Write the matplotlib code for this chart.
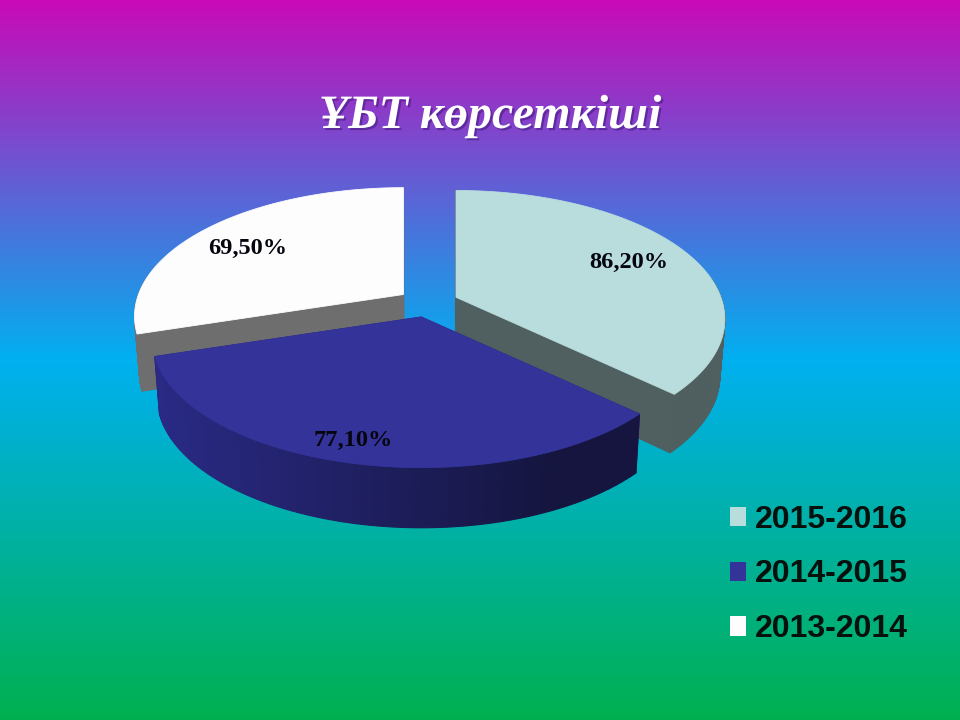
import numpy as np
import matplotlib
matplotlib.use("Agg")
import matplotlib.pyplot as plt
from matplotlib.colors import LinearSegmentedColormap, to_rgb
from matplotlib.patches import Patch, Polygon
import matplotlib.patheffects as pe

# Exam results by school year
years = ["2015-2016", "2014-2015", "2013-2014"]
scores = [86.2, 77.1, 69.5]
title = "ҰБТ көрсеткіші"
face_colors = ["#b9dcdd", "#333399", "#fdfdfe"]
cut_colors = ["#505f5f", "#2a2a85", "#6e6e6e"]

# Pixel layout of the tilted disc
CX, CY = 428, 303
RX, RY = 265, 125
TILT = 0.17
EXPLODE = 0.115
DEPTH = 57
SHRINK = 0.983

fig = plt.figure(figsize=(9.6, 7.2), dpi=100)
ax = fig.add_axes([0, 0, 1, 1])
ax.set_xlim(0, 960)
ax.set_ylim(720, 0)
ax.axis("off")

# Slide background
bg = LinearSegmentedColormap.from_list(
    "slide", [(0, "#c80ab8"), (0.5, "#00b0f0"), (1, "#00b050")])
ax.imshow(np.linspace(0, 1, 720)[:, None], cmap=bg, aspect="auto",
          extent=(0, 960, 720, 0), zorder=0)


def project(theta, r=1.0):
    """Offset of a disc point (clockwise angle from the far side) on screen."""
    x, y = r * np.sin(theta), r * np.cos(theta)
    w = 1 + TILT * y
    return RX * x / w, -RY * y / w


def lower(px, py):
    """Same point on the underside of the disc; nearer points look thicker."""
    return CX + (px - CX) * SHRINK, py + DEPTH * (1 + 0.0004 * (py - 330))


def wall(p0, p1, color, z):
    (x0, y0), (x1, y1) = p0, p1
    bx0, by0 = lower(x0, y0)
    bx1, by1 = lower(x1, y1)
    ax.add_patch(Polygon([(x0, y0), (x1, y1), (bx1, by1), (bx0, by0)],
                         closed=True, fc=color, ec=color, lw=0.8, zorder=z))


fractions = np.array(scores) / sum(scores)
edges = np.concatenate([[0], np.cumsum(fractions)]) * 2 * np.pi
layers = [3, 5, 1]

for i, z in enumerate(layers):
    t0, t1 = edges[i], edges[i + 1]
    mid = (t0 + t1) / 2
    ox = CX + RX * EXPLODE * np.sin(mid)
    oy = CY - RY * EXPLODE * np.cos(mid)
    ts = np.linspace(t0, t1, 160)
    dx, dy = project(ts)
    rim = np.column_stack([ox + dx, oy + dy])
    apex = (ox, oy)

    # Cut faces, only those turned towards the viewer show
    wall(apex, rim[0], cut_colors[i], z)
    wall(apex, rim[-1], cut_colors[i], z)

    # Outer wall, shaded from left to right on the dark slice
    dark = np.array(to_rgb("#15153f"))
    base = np.array(to_rgb(cut_colors[i]))
    for k in range(len(rim) - 1):
        if dy[k] + dy[k + 1] > -40:
            if i == 1:
                f = np.clip((rim[k, 0] - 155) / 400, 0, 1)
                color = base * (1 - f) + dark * f
            else:
                color = base
            wall(rim[k], rim[k + 1], color, z + 0.1)

    ax.add_patch(Polygon(np.vstack([apex, rim]), closed=True,
                         fc=face_colors[i], ec=face_colors[i], lw=0.6,
                         zorder=z + 0.2))

# Value labels on the slices
label_xy = [(629, 262), (353, 440), (248, 248)]
for v, (lx, ly) in zip(scores, label_xy):
    ax.text(lx, ly, f"{v:.2f}%".replace(".", ","), family="Liberation Serif",
            weight="bold", fontsize=17.6, color="#050510", ha="center",
            va="center", zorder=10)

# Heading
ax.text(490, 116, title, family="Liberation Serif", weight="bold",
        style="italic", fontsize=34.5, color="white", ha="center", va="center",
        zorder=10,
        path_effects=[pe.withSimplePatchShadow(offset=(1.5, -1.5),
                                               shadow_rgbFace="#30106a",
                                               alpha=0.45)])

# Legend
handles = [Patch(fc=c, ec="none") for c in face_colors]
leg = ax.legend(handles, years, loc="lower right",
                bbox_to_anchor=(0.9455, 0.105), frameon=False,
                prop={"family": "Liberation Sans", "weight": "bold", "size": 23},
                handlelength=0.5, handleheight=0.55, handletextpad=0.28,
                labelspacing=0.78, borderpad=0, borderaxespad=0)
leg.set_zorder(10)
for t in leg.get_texts():
    t.set_color("#06100c")

fig.savefig("out.png", dpi=100)
